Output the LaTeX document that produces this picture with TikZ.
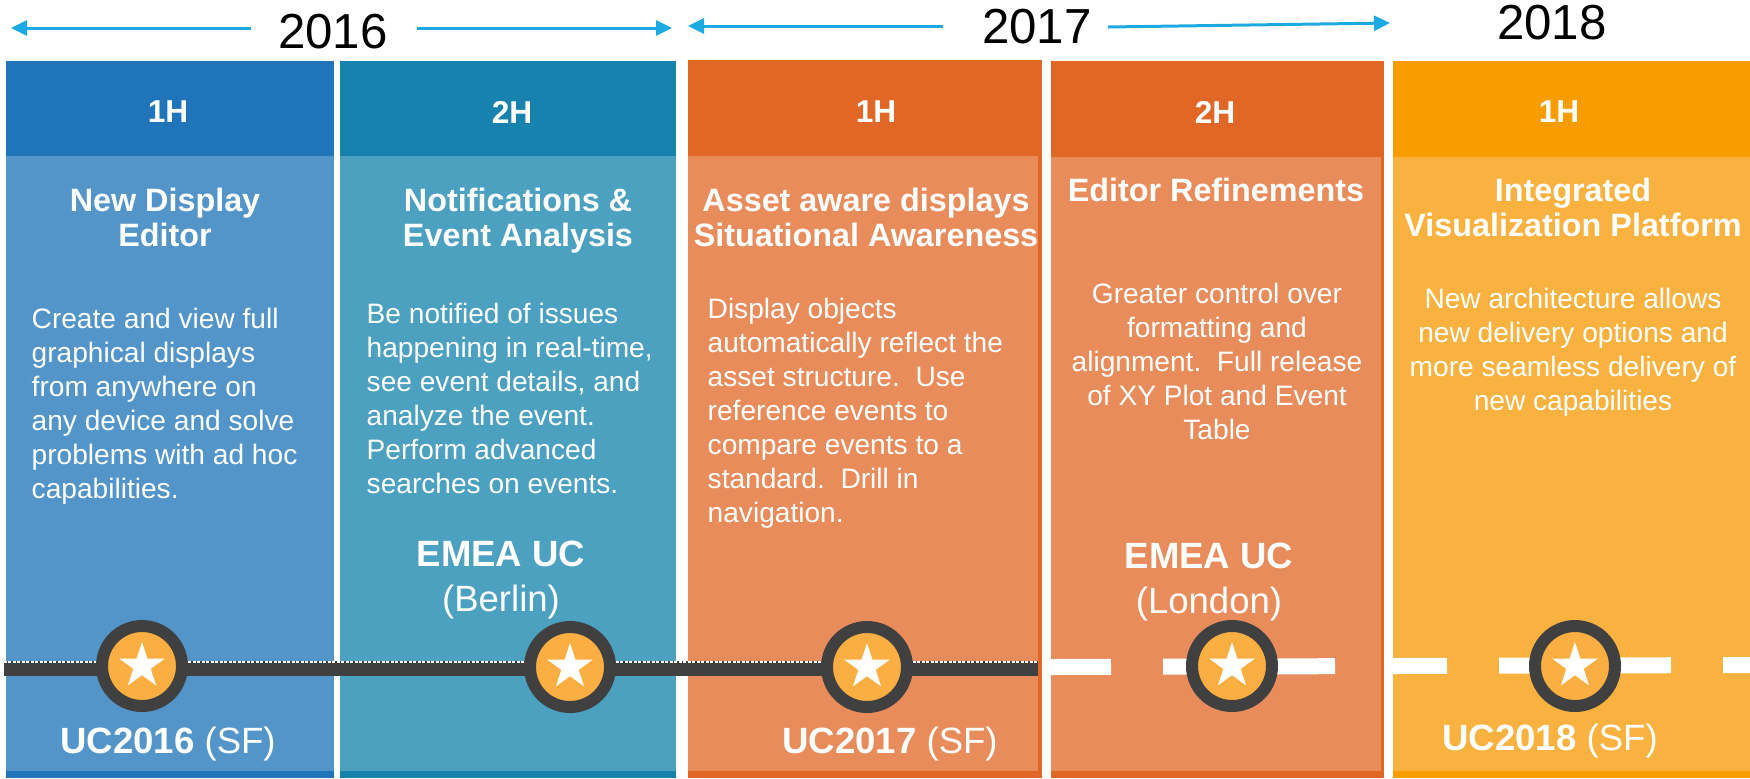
\documentclass[tikz,border=0pt]{standalone}
\usepackage{fontspec}
\setmainfont{Liberation Sans}
\usetikzlibrary{shapes.geometric,arrows.meta}

\definecolor{blueHd}{RGB}{31,116,186}
\definecolor{blueBd}{RGB}{83,149,201}
\definecolor{tealHd}{RGB}{23,130,174}
\definecolor{tealBd}{RGB}{76,160,192}
\definecolor{orngHd}{RGB}{225,103,38}
\definecolor{orngBd}{RGB}{233,140,92}
\definecolor{yellHd}{RGB}{248,156,0}
\definecolor{yellBd}{RGB}{249,178,63}
\definecolor{ringgray}{RGB}{64,64,64}
\definecolor{starorange}{RGB}{251,174,65}
\definecolor{arrowblue}{RGB}{29,169,225}

\begin{document}
\begin{tikzpicture}[x=0.1mm,y=-0.1mm,
  hdr/.style={text=white,inner sep=0pt,font=\fontsize{9pt}{11pt}\selectfont\bfseries},
  ttl/.style={text=white,anchor=north,inner sep=0pt,align=center,font=\fontsize{9.2pt}{10.2pt}\selectfont\bfseries},
  txt/.style={text=white,inner sep=0pt,font=\fontsize{8pt}{9.67pt}\selectfont},
  evt/.style={text=white,anchor=north,inner sep=0pt,align=center,font=\fontsize{10.4pt}{12.8pt}\selectfont},
  uc/.style={text=white,anchor=base,inner sep=0pt,font=\fontsize{10.4pt}{12.5pt}\selectfont},
  yr/.style={text=black,anchor=base,inner sep=0pt,font=\fontsize{14pt}{16pt}\selectfont},
  yarrow/.style={-{Triangle[length=1.6mm,width=1.5mm]},line width=0.3mm,arrowblue},
  medal/.style={circle,draw=ringgray,line width=1.2mm,fill=starorange,minimum size=8mm,inner sep=0pt},
  star5/.style={star,star points=5,star point ratio=2.618,fill=white,minimum size=4.8mm,inner sep=0pt}]

\useasboundingbox (0,0) rectangle (1750,778);

% columns (header colour full height, lighter body on top):
\fill[blueHd] (6,61) rectangle (334,778);
\fill[blueBd] (6,156) rectangle (334,771);
\fill[tealHd] (340,61) rectangle (676,778);
\fill[tealBd] (340,156) rectangle (676,771);
\fill[orngHd] (688,60) rectangle (1042,778);
\fill[orngBd] (688,156) rectangle (1038,771);
\fill[orngHd] (1051,61) rectangle (1384,778);
\fill[orngBd] (1051,157) rectangle (1381,771);
\fill[yellHd] (1393,61) rectangle (1750,778);
\fill[yellBd] (1393,157) rectangle (1750,771);

% years on top:
\path (333,48) node[yr] (y16) {2016};
\path (1037,43) node[yr] (y17) {2017};
\path (1552,39) node[yr] (y18) {2018};
\coordinate (a16l) at (251,28);
\coordinate (a16lt) at (11,28);
\coordinate (a16r) at (417,28);
\coordinate (a16rt) at (672,28);
\coordinate (a17l) at (943,26);
\coordinate (a17lt) at (688,26);
\coordinate (a17r) at (1108,27);
\coordinate (a17rt) at (1390,23);
\draw[yarrow] (a16l) -- (a16lt);
\draw[yarrow] (a16r) -- (a16rt);
\draw[yarrow] (a17l) -- (a17lt);
\draw[yarrow] (a17r) -- (a17rt);

% half-year headers:
\path (168,112) node[hdr] (h1) {1H};
\path (512,112) node[hdr] (h2) {2H};
\path (876,112) node[hdr] (h3) {1H};
\path (1215,112) node[hdr] (h4) {2H};
\path (1559,112) node[hdr] (h5) {1H};

% titles:
\path (165,187) node[ttl] (t1) {New Display\\Editor};
\path (518,187) node[ttl] (t2) {Notifications \&\\Event Analysis};
\path (866,187) node[ttl] (t3) {Asset aware displays\\Situational Awareness};
\path (1216,177) node[ttl] (t4) {Editor Refinements};
\path (1573,177) node[ttl] (t5) {Integrated\\Visualization Platform};

% descriptions:
\path (31,307) node[txt,anchor=north west,align=left] (b1) {Create and view full\\graphical displays\\from anywhere on\\any device and solve\\problems with ad hoc\\capabilities.};
\path (366,302) node[txt,anchor=north west,align=left] (b2) {Be notified of issues\\happening in real-time,\\see event details, and\\analyze the event.\\Perform advanced\\searches on events.};
\path (707,297) node[txt,anchor=north west,align=left] (b3) {Display objects\\automatically reflect the\\asset structure.\ \ Use\\reference events to\\compare events to a\\standard.\ \ Drill in\\navigation.};
\path (1217,282) node[txt,anchor=north,align=center] (b4) {Greater control over\\formatting and\\alignment.\ \ Full release\\of XY Plot and Event\\Table};
\path (1573,287) node[txt,anchor=north,align=center] (b5) {New architecture allows\\new delivery options and\\more seamless delivery of\\new capabilities};

% conferences:
\path (501,540) node[evt] (e2) {\textbf{EMEA UC}\\(Berlin)};
\path (1209,542) node[evt] (e4) {\textbf{EMEA UC}\\(London)};

% timeline:
\fill[ringgray] (4,661) rectangle (1038,676);
\draw[white,line width=0.2mm,dash pattern=on 0.3mm off 0.15mm] (4,662) -- (1038,662);
\draw[white,line width=1.6mm,dash pattern=on 6mm off 5.2mm] (1051,667) -- (1750,665);

\path (142,666) node[medal] (m1) {};
\path (570,667) node[medal] (m2) {};
\path (867,667) node[medal] (m3) {};
\path (1232,666) node[medal] (m4) {};
\path (1575,666) node[medal] (m5) {};
\path (m1) node[star5] (s1) {};
\path (m2) node[star5] (s2) {};
\path (m3) node[star5] (s3) {};
\path (m4) node[star5] (s4) {};
\path (m5) node[star5] (s5) {};

\path (168,753) node[uc] (u1) {\textbf{UC2016} (SF)};
\path (890,753) node[uc] (u2) {\textbf{UC2017} (SF)};
\path (1550,750) node[uc] (u3) {\textbf{UC2018} (SF)};

\end{tikzpicture}
\end{document}
